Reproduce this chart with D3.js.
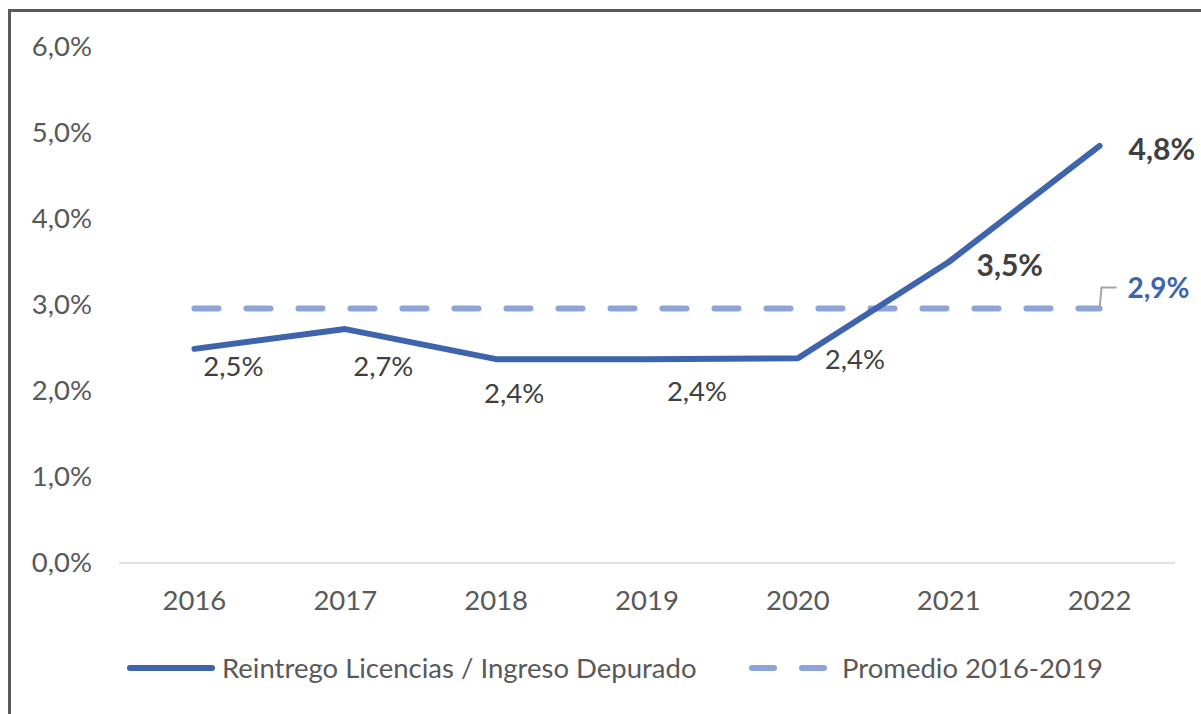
<!DOCTYPE html>
<html>
<head>
<meta charset="utf-8">
<script src="https://cdn.jsdelivr.net/npm/d3@7"></script>
<style>
  body { margin: 0; background: #fff; }
  svg { display: block; font-family: Lato, 'Open Sans', sans-serif; }
</style>
</head>
<body>
<script>
var years = ['2016', '2017', '2018', '2019', '2020', '2021', '2022']
var ratio = [2.49, 2.72, 2.37, 2.37, 2.38, 3.5, 4.85]
var ratioLabels = ['2,5%', '2,7%', '2,4%', '2,4%', '2,4%', '3,5%', '4,8%']
var boldLabel = [false, false, false, false, false, true, true]
var average = 2.96
var averageLabel = '2,9%'
var yTicks = [0, 1, 2, 3, 4, 5, 6]
var seriesNames = ['Reintrego Licencias / Ingreso Depurado', 'Promedio 2016-2019']

// label placement relative to each point (dx, dy)
var labelOffsets = [[39, 27], [38, 47], [18, 44], [50, 42], [57, 11], [61, 14], [29, 14]]

var width = 1201
var height = 714
var margin = { top: 47, right: 26, bottom: 151, left: 119 }

var solidColor = '#3F64AE'
var dashColor = '#8FA4D6'
var fontSize = '27.5px'

var svg = d3.select('body').append('svg').attr('width', width).attr('height', height)

// outer frame (top and left edges visible)
svg.append('path')
    .attr('d', 'M9.5,' + height + 'V10.5H' + width)
    .attr('fill', 'none')
    .attr('stroke', '#5a5a5a')
    .attr('stroke-width', 3)

var x = d3.scaleBand().domain(years).range([margin.left, width - margin.right])
var y = d3.scaleLinear().domain([0, 6]).range([height - margin.bottom, margin.top])

function cx(d) {
    return x(d) + x.bandwidth() / 2
}

// y axis labels
var yAxis = svg.append('g')
    .attr('transform', 'translate(' + 92 + ',0)')
    .call(d3.axisLeft(y).tickValues(yTicks).tickSize(0).tickPadding(0)
        .tickFormat(function (d) { return d3.format('.1f')(d).replace('.', ',') + '%' }))
yAxis.select('.domain').remove()
yAxis.selectAll('text')
    .attr('fill', '#595959')
    .style('font-size', fontSize)
    .style('font-family', 'Lato, sans-serif')

// baseline
svg.append('line')
    .attr('x1', margin.left).attr('x2', width - margin.right)
    .attr('y1', y(0)).attr('y2', y(0))
    .attr('stroke', '#d9d9d9').attr('stroke-width', 1.5)

// x axis labels
var xAxis = svg.append('g')
    .attr('transform', 'translate(0,' + (y(0) + 27) + ')')
    .call(d3.axisBottom(x).tickSize(0).tickPadding(0))
xAxis.select('.domain').remove()
xAxis.selectAll('text')
    .attr('fill', '#595959')
    .attr('dy', '0.71em')
    .style('font-size', fontSize)
    .style('font-family', 'Lato, sans-serif')

// average dashed line
svg.append('line')
    .attr('x1', cx(years[0])).attr('x2', cx(years[years.length - 1]))
    .attr('y1', y(average)).attr('y2', y(average))
    .attr('stroke', dashColor)
    .attr('stroke-width', 6)
    .attr('stroke-linecap', 'round')
    .attr('stroke-dasharray', '24 28')

// main series
var line = d3.line()
    .x(function (d, i) { return cx(years[i]) })
    .y(function (d) { return y(d) })

svg.append('path')
    .datum(ratio)
    .attr('d', line)
    .attr('fill', 'none')
    .attr('stroke', solidColor)
    .attr('stroke-width', 6)
    .attr('stroke-linecap', 'round')
    .attr('stroke-linejoin', 'round')

// point labels
svg.append('g')
    .selectAll('text')
    .data(ratio)
    .enter()
    .append('text')
    .attr('x', function (d, i) { return cx(years[i]) + labelOffsets[i][0] })
    .attr('y', function (d, i) { return y(d) + labelOffsets[i][1] })
    .attr('text-anchor', function (d, i) { return i === 6 ? 'start' : 'middle' })
    .attr('fill', '#404040')
    .style('font-size', function (d, i) { return boldLabel[i] ? '30px' : fontSize })
    .style('font-weight', function (d, i) { return boldLabel[i] ? 'bold' : 'normal' })
    .text(function (d, i) { return ratioLabels[i] })

// average callout with leader
var ax = cx(years[years.length - 1])
var ay = y(average)
svg.append('path')
    .attr('d', 'M' + ax + ',' + ay + 'L' + (ax + 2) + ',' + (ay - 21) + 'H' + (ax + 17))
    .attr('fill', 'none')
    .attr('stroke', '#a6a6a6')
    .attr('stroke-width', 2)
svg.append('text')
    .attr('x', ax + 28)
    .attr('y', ay - 10)
    .attr('fill', solidColor)
    .style('font-size', '28px')
    .style('font-weight', 'bold')
    .text(averageLabel)

// legend
var legendY = 668
var legend = svg.append('g')
legend.append('line')
    .attr('x1', 130).attr('x2', 212)
    .attr('y1', legendY).attr('y2', legendY)
    .attr('stroke', solidColor).attr('stroke-width', 6).attr('stroke-linecap', 'round')
legend.append('text')
    .attr('x', 222).attr('y', legendY).attr('dy', '0.35em')
    .attr('fill', '#595959').style('font-size', fontSize)
    .text(seriesNames[0])
legend.append('line')
    .attr('x1', 752).attr('x2', 826)
    .attr('y1', legendY).attr('y2', legendY)
    .attr('stroke', dashColor).attr('stroke-width', 6).attr('stroke-linecap', 'round')
    .attr('stroke-dasharray', '22 28')
legend.append('text')
    .attr('x', 842).attr('y', legendY).attr('dy', '0.35em')
    .attr('fill', '#595959').style('font-size', fontSize)
    .text(seriesNames[1])
</script>
</body>
</html>
